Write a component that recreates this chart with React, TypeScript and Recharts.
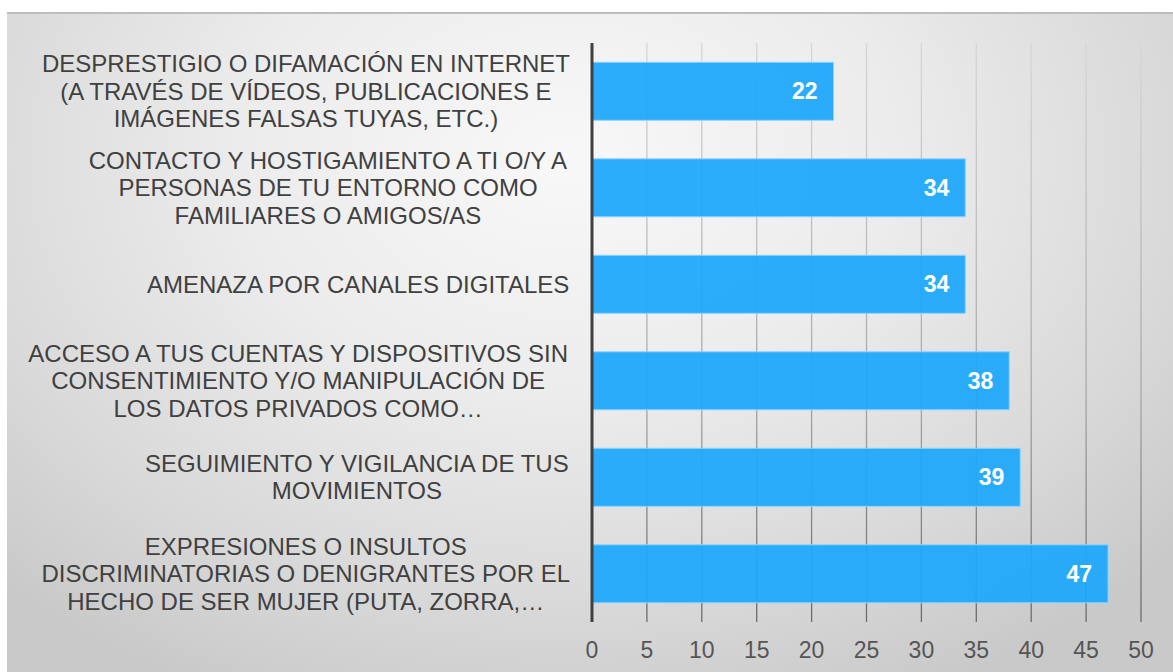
import { BarChart, Bar, XAxis, YAxis, CartesianGrid, LabelList } from 'recharts'

const categories = [
  'DESPRESTIGIO O DIFAMACIÓN EN INTERNET\n(A TRAVÉS DE VÍDEOS, PUBLICACIONES E\nIMÁGENES FALSAS TUYAS, ETC.)',
  'CONTACTO Y HOSTIGAMIENTO A TI O/Y A\nPERSONAS DE TU ENTORNO COMO\nFAMILIARES O AMIGOS/AS',
  'AMENAZA POR CANALES DIGITALES',
  'ACCESO A TUS CUENTAS Y DISPOSITIVOS SIN\nCONSENTIMIENTO Y/O MANIPULACIÓN DE\nLOS DATOS PRIVADOS COMO…',
  'SEGUIMIENTO Y VIGILANCIA DE TUS\nMOVIMIENTOS',
  'EXPRESIONES O INSULTOS\nDISCRIMINATORIAS O DENIGRANTES POR EL\nHECHO DE SER MUJER (PUTA, ZORRA,…',
]
const values = [22, 34, 34, 38, 39, 47]
const xTicks = [0, 5, 10, 15, 20, 25, 30, 35, 40, 45, 50]

const data = categories.map((name, i) => ({ name, value: values[i] }))

const FONT = '"Liberation Sans", Arial, sans-serif'
const LABEL_SIZE = 24
const LINE_H = 27.5
const LABEL_RIGHT = 570

let ctx: CanvasRenderingContext2D | null = null
function textWidth(s: string) {
  if (!ctx) ctx = document.createElement('canvas').getContext('2d')
  if (!ctx) return s.length * 14
  ctx.font = `${LABEL_SIZE}px "Liberation Sans"`
  return ctx.measureText(s).width
}

// multi-line label, lines centred on each other, block right-aligned to the axis
function CategoryTick(props: any) {
  const { y, payload } = props
  const lines: string[] = String(payload.value).split('\n')
  const maxW = Math.max(...lines.map(textWidth))
  const cx = LABEL_RIGHT - maxW / 2
  const top = y - ((lines.length - 1) * LINE_H) / 2
  return (
    <text
      textAnchor="middle"
      fill="#404040"
      fontSize={LABEL_SIZE}
      fontFamily={FONT}
    >
      {lines.map((l, i) => (
        <tspan key={i} x={cx} y={top + i * LINE_H} dy="0.35em">
          {l}
        </tspan>
      ))}
    </text>
  )
}

export default function App() {
  return (
    <div
      style={{
        position: 'absolute',
        left: 0,
        top: 0,
        width: 1173,
        height: 672,
        background: '#ffffff',
        overflow: 'hidden',
      }}
    >
      <div
        style={{
          position: 'absolute',
          left: 7,
          top: 12,
          right: 0,
          bottom: 0,
          borderTop: '2px solid #bdbdbd',
          background:
            'radial-gradient(ellipse 70% 90% at 48% 22%, #f8f8f8 0%, #ececec 40%, #d9d9d9 75%, #c9c9c9 100%)',
        }}
      />
      <div style={{ position: 'absolute', left: 0, top: 0 }}>
        <BarChart
          width={1173}
          height={672}
          data={data}
          layout="vertical"
          margin={{ top: 43, right: 32, bottom: 0, left: 0 }}
          barCategoryGap="20%"
        >
          <defs>
            <linearGradient id="gridGrad" gradientUnits="userSpaceOnUse" x1="0" y1="43" x2="0" y2="622">
              <stop offset="0%" stopColor="#d6d6d6" />
              <stop offset="60%" stopColor="#a8a8a8" />
              <stop offset="100%" stopColor="#6a6a6a" />
            </linearGradient>
          </defs>
          <CartesianGrid horizontal={false} stroke="url(#gridGrad)" strokeWidth={1.3} />
          <XAxis
            type="number"
            domain={[0, 50]}
            ticks={xTicks}
            axisLine={false}
            tickLine={false}
            height={50}
            tickMargin={14}
            tick={{ fill: '#555555', fontSize: 23, fontFamily: FONT }}
          />
          <YAxis
            type="category"
            dataKey="name"
            width={592}
            axisLine={{ stroke: '#404040', strokeWidth: 3 }}
            tickLine={false}
            tick={<CategoryTick />}
            interval={0}
          />
          <Bar
            dataKey="value"
            fill="#1ea8fc"
            fillOpacity={0.94}
            stroke="#8fd3ff"
            strokeWidth={1}
            isAnimationActive={false}
          >
            <LabelList
              dataKey="value"
              position="insideRight"
              offset={16}
              fill="#ffffff"
              fontSize={23}
              fontWeight="bold"
              fontFamily={FONT}
            />
          </Bar>
        </BarChart>
      </div>
    </div>
  )
}
